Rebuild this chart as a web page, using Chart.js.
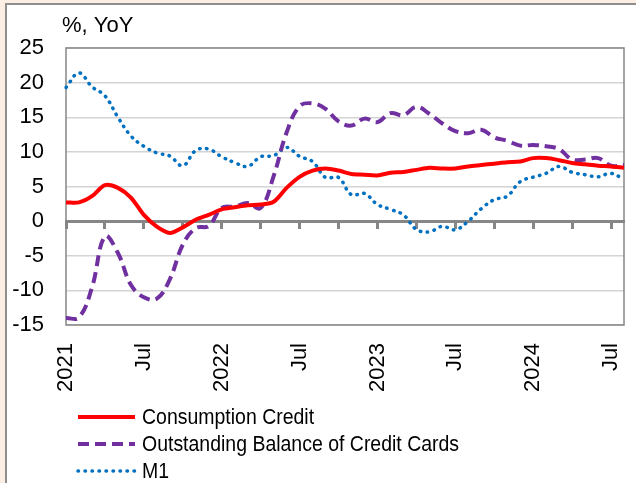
<!DOCTYPE html>
<html>
<head>
<meta charset="utf-8">
<script src="https://cdn.jsdelivr.net/npm/chart.js@4.4.1/dist/chart.umd.min.js"></script>
<style>
  html, body { margin: 0; padding: 0; width: 636px; height: 483px; overflow: hidden; background: #fdeee3; }
  #panel { position: absolute; left: 5px; top: 3px; right: 0; bottom: 0; background: #ffffff;
           border-left: 2px solid #8e8e8e; border-top: 2px solid #8e8e8e; }
  #wrap { position: absolute; left: 0; top: 0; width: 636px; height: 483px; }
</style>
</head>
<body>
<div id="panel"></div>
<div id="wrap"><canvas id="c" width="636" height="483"></canvas></div>
<script>
// Monthly observations, Jan 2021 - Aug 2024
const months = [
  '2021-01','2021-02','2021-03','2021-04','2021-05','2021-06','2021-07','2021-08','2021-09','2021-10','2021-11','2021-12',
  '2022-01','2022-02','2022-03','2022-04','2022-05','2022-06','2022-07','2022-08','2022-09','2022-10','2022-11','2022-12',
  '2023-01','2023-02','2023-03','2023-04','2023-05','2023-06','2023-07','2023-08','2023-09','2023-10','2023-11','2023-12',
  '2024-01','2024-02','2024-03','2024-04','2024-05','2024-06','2024-07','2024-08'
];

// Labels shown every six months on the category axis
const tickLabels = ['2021', 'Jul', '2022', 'Jul', '2023', 'Jul', '2024', 'Jul'];

// Year-on-year growth, %
const consumptionCredit = [
  2.7, 2.7, 3.6, 5.2, 4.8, 3.4, 0.9, -0.8, -1.7, -0.9,
  0.2, 0.9, 1.7, 2.0, 2.3, 2.4, 2.8, 4.8, 6.4, 7.3,
  7.6, 7.3, 6.8, 6.7, 6.6, 7.0, 7.1, 7.4, 7.7, 7.6,
  7.6, 7.9, 8.1, 8.3, 8.5, 8.6, 9.1, 9.1, 8.8, 8.4,
  8.2, 8.0, 7.9, 7.7
];
const creditCardBalance = [
  -14.0, -13.9, -9.6, -2.2, -4.6, -9.2, -11.0, -11.2, -8.4, -3.4,
  -1.0, -0.7, 1.9, 2.1, 2.6, 1.9, 6.5, 12.8, 16.6, 17.0,
  16.2, 14.4, 13.8, 14.8, 14.3, 15.6, 15.3, 16.5, 15.5, 14.1,
  13.0, 12.7, 13.2, 12.1, 11.6, 10.9, 11.0, 10.8, 10.4, 8.9,
  8.9, 9.1, 8.0, 8.1
];
const m1 = [
  19.3, 21.4, 19.4, 18.1, 15.0, 12.3, 10.8, 9.85, 9.4, 8.0,
  10.2, 10.4, 9.3, 8.45, 7.9, 9.3, 9.45, 10.65, 9.35, 8.6,
  6.3, 6.3, 3.8, 4.0, 2.4, 1.7, 0.9, -1.2, -1.55, -0.75,
  -1.25, 0.0, 1.8, 3.1, 3.6, 5.7, 6.35, 6.9, 7.9, 7.05,
  6.7, 6.4, 6.9, 6.0
];

const FONT = '"Liberation Sans", Arial, sans-serif';
const AXIS_GREY = '#868686';

// Horizontal axes keep the full plot width; no extra side padding for labels
const noSidePadding = s => { s.paddingLeft = 0; s.paddingRight = 0; };

// Outline of the plot area
const plotFrame = {
  id: 'plotFrame',
  beforeDatasetsDraw(chart) {
    const { ctx, chartArea: a } = chart;
    ctx.save();
    ctx.strokeStyle = AXIS_GREY;
    ctx.lineWidth = 1.5;
    ctx.strokeRect(a.left, a.top, a.right - a.left, a.bottom - a.top);
    ctx.restore();
  }
};

// Unit caption above the value axis
const unitCaption = {
  id: 'unitCaption',
  afterDraw(chart) {
    const { ctx, chartArea: a } = chart;
    ctx.save();
    ctx.fillStyle = '#000';
    ctx.font = '22px ' + FONT;
    ctx.textAlign = 'left';
    ctx.textBaseline = 'alphabetic';
    ctx.fillText('%, YoY', a.left - 4, a.top - 16);
    ctx.restore();
  }
};

// Legend stacked one series per row below the axis labels
const stackedLegend = {
  id: 'stackedLegend',
  afterDraw(chart) {
    const { ctx, chartArea: a } = chart;
    const x0 = a.left + 12;
    const sampleLen = 57;
    let y = chart.scales.x.bottom + 25;
    chart.data.datasets.forEach(ds => {
      ctx.save();
      ctx.strokeStyle = ds.borderColor;
      ctx.lineWidth = ds.borderWidth;
      ctx.lineCap = ds.borderCapStyle || 'butt';
      ctx.setLineDash(ds.borderDash || []);
      ctx.beginPath();
      ctx.moveTo(x0, y);
      ctx.lineTo(x0 + sampleLen, y);
      ctx.stroke();
      ctx.setLineDash([]);
      ctx.fillStyle = '#000';
      ctx.font = '22px ' + FONT;
      ctx.textBaseline = 'middle';
      ctx.translate(x0 + sampleLen + 7, y + 1);
      ctx.scale(0.885, 1);
      ctx.fillText(ds.label, 0, 0);
      ctx.restore();
      y += 27;
    });
  }
};

new Chart(document.getElementById('c'), {
  type: 'line',
  data: {
    labels: months,
    datasets: [
      {
        label: 'Consumption Credit',
        data: consumptionCredit,
        borderColor: '#ff0000',
        borderWidth: 4,
        tension: 0.3,
        pointRadius: 0
      },
      {
        label: 'Outstanding Balance of Credit Cards',
        data: creditCardBalance,
        borderColor: '#7030a0',
        borderWidth: 4,
        borderDash: [11, 6],
        tension: 0.4,
        pointRadius: 0
      },
      {
        label: 'M1',
        data: m1,
        borderColor: '#0070c0',
        borderWidth: 3.5,
        borderDash: [0.5, 6.5],
        borderCapStyle: 'round',
        tension: 0.4,
        pointRadius: 0
      }
    ]
  },
  options: {
    responsive: false,
    animation: false,
    events: [],
    layout: { padding: { left: 0, top: 48, right: 12, bottom: 91 } },
    plugins: {
      legend: { display: false },
      tooltip: { enabled: false },
      title: { display: false }
    },
    scales: {
      x: {
        type: 'category',
        position: 'bottom',
        offset: false,
        grid: { display: false, drawTicks: false },
        border: { display: false },
        ticks: {
          autoSkip: false,
          minRotation: 90,
          maxRotation: 90,
          padding: 18,
          color: '#000',
          font: { family: FONT, size: 22 },
          callback: (v, i) => (i % 6 === 0 ? tickLabels[i / 6] : '')
        },
        afterFit: s => { s.height = 67; noSidePadding(s); }
      },
      x0: {
        type: 'category',
        position: { y: 0 },
        offset: false,
        grid: {
          display: true,
          drawOnChartArea: false,
          drawTicks: true,
          tickLength: 6,
          tickWidth: 3,
          tickColor: c => (c.index % 3 === 0 ? AXIS_GREY : 'rgba(0,0,0,0)')
        },
        border: { display: true, color: AXIS_GREY, width: 3 },
        ticks: { display: false, autoSkip: false },
        afterFit: noSidePadding
      },
      y: {
        min: -15,
        max: 25,
        ticks: {
          stepSize: 5,
          padding: 22,
          color: '#000',
          font: { family: FONT, size: 22 }
        },
        grid: { color: '#d4d4d4', lineWidth: 1.5, drawTicks: false },
        border: { display: false },
        afterFit: s => { s.width = 66; }
      }
    }
  },
  plugins: [plotFrame, unitCaption, stackedLegend]
});
</script>
</body>
</html>
